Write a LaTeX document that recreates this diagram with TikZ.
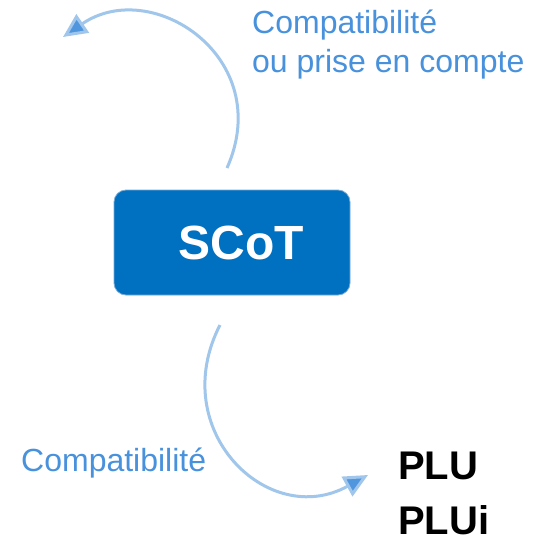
\documentclass[tikz,border=0pt]{standalone}
\usepackage{fontspec}
\setmainfont{Liberation Sans}
\usepackage{tikz}
\usetikzlibrary{arrows.meta, positioning, calc}
\definecolor{scotblue}{RGB}{0,112,192}
\definecolor{scotedge}{RGB}{120,170,215}
\definecolor{curveblue}{RGB}{160,198,235}
\definecolor{tipblue}{RGB}{80,150,222}
\definecolor{labelblue}{RGB}{72,145,220}
\tikzset{
  scotbox/.style={rectangle,rounded corners=12pt,draw=scotedge,line width=0.8pt,fill=scotblue,
    text=white,minimum width=236pt,minimum height=105pt,font=\fontsize{48}{56}\selectfont\bfseries},
  lbl/.style={inner sep=0pt,align=left,text=labelblue,font=\fontsize{32}{39}\selectfont},
  plunode/.style={inner sep=0pt,align=left,font=\fontsize{40}{55}\selectfont\bfseries},
  arcarr/.style={-{Triangle[length=24pt,width=22pt,fill=tipblue]},line width=3pt,color=curveblue}
}

\begin{document}
\begin{tikzpicture}[x=1pt,y=-1pt]
  \useasboundingbox[fill=white] (0,0) rectangle (551,541);
  \node[scotbox] (scot) at (232,242.5) {\hspace{18pt}SCoT};
  \node[lbl,anchor=base west] (top) at (252,72) {Compatibilit\'e\\ou prise en compte};
  \node[lbl,anchor=base west] (bot) at (21,471) {Compatibilit\'e};
  \node[plunode,anchor=base west] (plu) at (398,534) {PLU\\PLUi};
  \coordinate (upstart) at (227,168);
  \coordinate (uptip) at (63,37);
  \coordinate (downstart) at (220,325);
  \coordinate (downtip) at (368,475);
  \draw[arcarr] (upstart) .. controls (276,58) and (152,-24) .. (uptip);
  \draw[arcarr] (downstart) .. controls (166,430) and (268,530) .. (downtip);
\end{tikzpicture}
\end{document}
